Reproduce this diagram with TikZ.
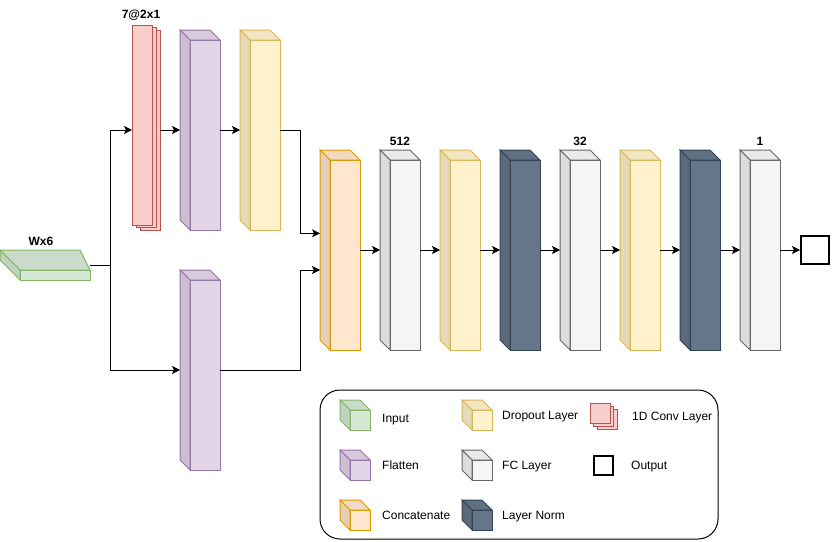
\documentclass[tikz,border=0pt]{standalone}
\usepackage{fontspec}
\setmainfont{Liberation Sans}
\usetikzlibrary{arrows.meta,positioning,calc}
\definecolor{inputfill}{HTML}{D5E8D4}
\definecolor{inputline}{HTML}{82B366}
\definecolor{flatfill}{HTML}{E1D5E7}
\definecolor{flatline}{HTML}{9673A6}
\definecolor{dropfill}{HTML}{FFF2CC}
\definecolor{dropline}{HTML}{D6B656}
\definecolor{catfill}{HTML}{FFE6CC}
\definecolor{catline}{HTML}{D79B00}
\definecolor{fcfill}{HTML}{F5F5F5}
\definecolor{fcline}{HTML}{666666}
\definecolor{normfill}{HTML}{647687}
\definecolor{normline}{HTML}{314354}
\definecolor{convfill}{HTML}{F8CECC}
\definecolor{convline}{HTML}{B85450}
\tikzset{arr/.style={-{Stealth[length=8pt,width=8pt,inset=2pt]},line width=1pt},
 lbl/.style={font=\fontsize{12}{14}\selectfont\bfseries,inner sep=4pt},
 legtext/.style={font=\fontsize{12}{14}\selectfont,anchor=base west,inner sep=0pt},
 hull/.style={inner sep=0pt,outer sep=0pt}}

% name, fill, line, centre, width, height (depth 10)
\newcommand{\blockcube}[6]{%
 \node[hull,minimum width=#5,minimum height=#6] (#1) at (#4) {};
 \filldraw[fill=#2,draw=#3,line width=1pt] ($(#1.north west)+(10,10)$) rectangle (#1.south east);
 \filldraw[fill=#2!95!black,draw=#3,line width=1pt] (#1.north west) -- ++(#5-10,0) -- ++(10,10) -- ++(10-#5,0) -- cycle;
 \filldraw[fill=#2!90!black,draw=#3,line width=1pt] (#1.north west) -- ++(10,10) -- ++(0,#6-10) -- ++(-10,-10) -- cycle;
}
% name, centre, width, height, dx, dy
\newcommand{\convstack}[6]{%
 \node[hull,minimum width=#3+2*#5,minimum height=#4+2*#6] (#1) at (#2) {};
 \foreach \k in {2,1,0}
  \filldraw[fill=convfill,draw=convline,line width=1pt] ($(#1.north west)+(\k*#5,\k*#6)$) rectangle ++(#3,#4);
}

\begin{document}
\begin{tikzpicture}[x=1pt,y=-1pt]
\useasboundingbox (0,0) rectangle (832,541);
% input slab
\node[hull,minimum width=90,minimum height=30] (input) at (45,265) {};
\filldraw[fill=inputfill,draw=inputline,line width=1pt] (20,270) rectangle (90,280);
\filldraw[fill=inputfill!95!black,draw=inputline,line width=1pt] (0,250) -- (80,250) -- (90,270) -- (20,270) -- cycle;
\filldraw[fill=inputfill!90!black,draw=inputline,line width=1pt] (0,250) -- (20,270) -- (20,280) -- (0,260) -- cycle;
\node[lbl,above=0pt of input,xshift=-4pt] {Wx6};
% upper branch
\convstack{conv}{146,127.5}{20}{200}{4}{2.5}
\node[lbl,above=0pt of conv,xshift=-5pt] {7@2x1};
\blockcube{flatA}{flatfill}{flatline}{200,130}{40}{200}
\blockcube{dropA}{dropfill}{dropline}{260,130}{40}{200}
% lower branch
\blockcube{flatB}{flatfill}{flatline}{200,370}{40}{200}
% main row
\foreach \n/\f/\l [count=\i from 0] in {concat/catfill/catline,fcA/fcfill/fcline,dropB/dropfill/dropline,normA/normfill/normline,fcB/fcfill/fcline,dropC/dropfill/dropline,normB/normfill/normline,fcC/fcfill/fcline}
 {\blockcube{\n}{\f}{\l}{340+60*\i,250}{40}{200}}
\node[lbl,above=0pt of fcA] {512};
\node[lbl,above=0pt of fcB] {32};
\node[lbl,above=0pt of fcC] {1};
\node[draw,line width=2pt,minimum size=28,inner sep=0pt] (out) at (815,250) {};
% connectors
\coordinate (split) at ($(input.east)+(20,0)$);
\draw[line width=1pt] (input.east) -- (split);
\draw[arr] (split) |- (conv.west |- flatA.west);
\draw[arr] (split) |- (flatB.west);
\draw[arr] (conv.east |- flatA.west) -- (flatA.west);
\draw[arr] (flatA.east) -- (dropA.west);
\draw[arr] (dropA.east) -- ++(20,0) |- ($(concat.west)+(0,-16.7)$);
\draw[arr] (flatB.east) -- ++(80,0) |- ($(concat.west)+(0,20)$);
\foreach \a/\b in {concat/fcA,fcA/dropB,dropB/normA,normA/fcB,fcB/dropC,dropC/normB,normB/fcC,fcC/out}
 \draw[arr] (\a.east) -- (\b.west);
% legend
\draw[line width=1pt,rounded corners=20pt] (320,390) rectangle (718,539);
\foreach \n/\f/\l/\x/\y/\g/\d/\t in {lgInput/inputfill/inputline/355/415/12/7/Input,lgFlat/flatfill/flatline/355/465/12/4.5/Flatten,lgCat/catfill/catline/355/515/12/4/Concatenate,lgDrop/dropfill/dropline/477/415/10/4/Dropout Layer,lgFc/fcfill/fcline/477/465/10/4.5/FC Layer,lgNorm/normfill/normline/477/515/10/4.5/Layer Norm}
 {\blockcube{\n}{\f}{\l}{\x,\y}{30}{30}
  \node[legtext] at ($(\n.east)+(\g,\d)$) {\t};}
\convstack{lgConv}{603.5,416}{20}{20}{3.5}{3}
\node[legtext] at ($(lgConv.east)+(15,4)$) {1D Conv Layer};
\node[draw,line width=2pt,minimum size=19,inner sep=0pt] (lgOut) at (603.5,465) {};
\node[legtext] at ($(lgOut.east)+(17,4.5)$) {Output};
\end{tikzpicture}
\end{document}
